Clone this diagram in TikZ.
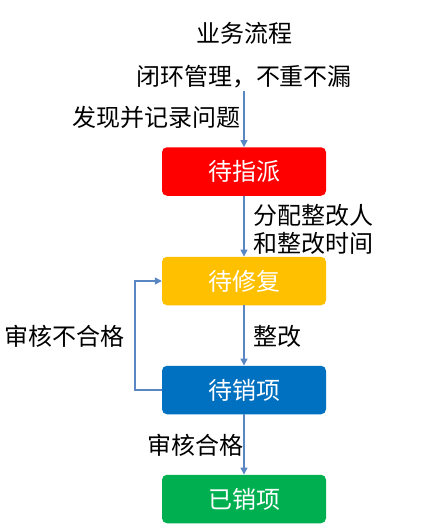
\documentclass[tikz,border=0pt]{standalone}
\usepackage{fontspec}
\setmainfont{Noto Sans CJK SC}
\usetikzlibrary{arrows.meta}
\definecolor{cred}{HTML}{FF0000}
\definecolor{cyellow}{HTML}{FFC000}
\definecolor{cblue}{HTML}{0070C0}
\definecolor{cgreen}{HTML}{00B050}
\definecolor{arrowc}{HTML}{5A86C4}
\begin{document}
\begin{tikzpicture}[x=1pt,y=-1pt]
\useasboundingbox (0,0) rectangle (443,531);
\tikzset{
  box/.style={rounded corners=5pt, minimum width=164pt, minimum height=48.5pt, text=white, font=\fontsize{24}{28}\selectfont, inner sep=0pt},
  lbl/.style={font=\fontsize{24}{28}\selectfont, text=black, inner sep=0pt, align=left},
  flow/.style={draw=arrowc, line width=1.4pt, -{Triangle[length=7pt,width=7pt]}}
}
\node[box, fill=cred] (a) at (244,171.5) {待指派};
\node[box, fill=cyellow] (b) at (244,281) {待修复};
\node[box, fill=cblue] (c) at (244,390) {待销项};
\node[box, fill=cgreen] (d) at (244,499) {已销项};
\coordinate (top) at (244,91);
\node[lbl] (t1) at (244,33) {业务流程};
\node[lbl] (t2) at (244,77) {闭环管理，不重不漏};
\node[lbl] (l1) at (156.5,117) {发现并记录问题};
\node[lbl, font=\fontsize{24}{28}\selectfont] (l2) at (313.5,229) {分配整改人\\和整改时间};
\node[lbl] (l3) at (277,336) {整改};
\node[lbl] (l4) at (65,336) {审核不合格};
\node[lbl] (l5) at (195,445) {审核合格};
\draw[flow] (top) -- (a.north);
\draw[flow] (a.south) -- (b.north);
\draw[flow] (b.south) -- (c.north);
\draw[flow] (c.south) -- (d.north);
\draw[flow] (c.west) -- ++(-27,0) |- (b.west);
\end{tikzpicture}
\end{document}
